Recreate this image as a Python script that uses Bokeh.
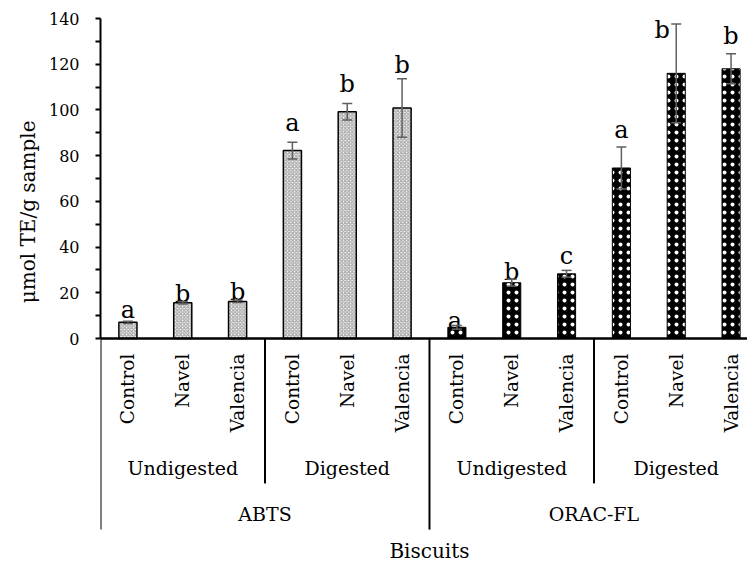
import math

from bokeh.core.properties import value
from bokeh.embed import file_html
from bokeh.models import (ColumnDataSource, FixedTicker, Range1d, Span,
                          TeeHead, Title, Whisker)
from bokeh.plotting import figure
from bokeh.resources import INLINE

# ---- data -----------------------------------------------------------------
assays = ["ABTS", "ORAC-FL"]
stages = ["Undigested", "Digested"]
biscuits = ["Control", "Navel", "Valencia"]

# means and standard deviations (µmol TE/g sample), Undigested then Digested
abts_mean = [7.1, 15.6, 16.2, 82.2, 99.2, 100.8]
abts_sd = [0.5, 0.5, 0.5, 3.7, 3.6, 12.8]
abts_letters = ["a", "b", "b", "a", "b", "b"]

orac_mean = [4.9, 24.4, 28.3, 74.6, 116.0, 118.0]
orac_sd = [0.8, 1.5, 1.5, 9.2, 21.6, 6.6]
orac_letters = ["a", "b", "c", "a", "b", "b"]

y_ticks = [0, 20, 40, 60, 80, 100, 120, 140]
y_minor = [10, 30, 50, 70, 90, 110, 130]

# ---- layout helpers -------------------------------------------------------
FONT = "DejaVu Serif"
per_stage = len(biscuits)
per_assay = per_stage * len(stages)
n_bars = per_assay * len(assays)

x_abts = [i + 0.5 for i in range(per_assay)]
x_orac = [per_assay + i + 0.5 for i in range(per_assay)]

# letter label nudges in screen pixels (x right, y down), text centred
abts_dx = [0, 0, 0, 0, 0, 0]
abts_dy = [-11, -8, -8, -19, -20, -14]
orac_dx = [-2, 0, 0, 0, -14, 0]
orac_dy = [-4, -7, -14, -17, 6, -18]

p = figure(width=747, height=562, output_backend="svg", toolbar_location=None,
           x_range=Range1d(0, 11.80), y_range=Range1d(-98.0, 143.5),
           x_axis_location=None, min_border_left=100, min_border_right=0,
           min_border_top=10, min_border_bottom=0)
p.xgrid.visible = False
p.ygrid.visible = False
p.outline_line_color = None
p.background_fill_color = "white"

# ---- y axis -----------------------------------------------------------------
yax = p.yaxis[0]
yax.bounds = (0, 140)
yax.ticker = FixedTicker(ticks=y_ticks, minor_ticks=y_minor)
yax.axis_line_width = 2
yax.axis_line_color = "black"
yax.major_tick_in = 0
yax.major_tick_out = 5
yax.minor_tick_in = 0
yax.minor_tick_out = 5
yax.major_tick_line_width = 2
yax.minor_tick_line_width = 2
yax.major_label_text_font = FONT
yax.major_label_text_font_size = "16px"
yax.major_label_text_color = "black"
yax.major_label_standoff = 16

# axis title, placed against the 0-140 span of the value axis
p.add_layout(Title(text="μmol TE/g sample", align="right", offset=110,
                   vertical_align="middle", standoff=10,
                   text_font=FONT, text_font_size="20px",
                   text_font_style="normal", text_color="black"), "left")

# ---- bars -------------------------------------------------------------------
abts_src = ColumnDataSource(dict(
    x=x_abts, top=abts_mean,
    upper=[m + s for m, s in zip(abts_mean, abts_sd)],
    lower=[m - s for m, s in zip(abts_mean, abts_sd)],
    letter=abts_letters, dx=abts_dx, dy=abts_dy))
orac_src = ColumnDataSource(dict(
    x=x_orac, top=orac_mean,
    upper=[m + s for m, s in zip(orac_mean, orac_sd)],
    lower=[m - s for m, s in zip(orac_mean, orac_sd)],
    letter=orac_letters, dx=orac_dx, dy=orac_dy))

bar_w = 0.33
p.vbar(x="x", top="top", bottom=0, width=bar_w, source=abts_src,
       fill_color="#f4f4f4", hatch_pattern="diagonal_cross", hatch_scale=3.5,
       hatch_weight=1, hatch_color="#9a9a9a",
       line_color="black", line_width=1.5)
p.vbar(x="x", top="top", bottom=0, width=bar_w, source=orac_src,
       fill_color="black", hatch_pattern="dot", hatch_scale=8,
       hatch_weight=1, hatch_color="white",
       line_color="black", line_width=1)

for src in (abts_src, orac_src):
    head = dict(size=10, line_color="#5f5f5f", line_width=1.5)
    p.add_layout(Whisker(source=src, base="x", upper="upper", lower="lower",
                         line_color="#5f5f5f", line_width=1.5, level="overlay",
                         upper_head=TeeHead(**head), lower_head=TeeHead(**head)))
    p.text(x="x", y="upper", text="letter", source=src,
           x_offset="dx", y_offset="dy",
           text_font=value(FONT), text_font_size="24px", text_color="black",
           text_align="center", text_baseline="middle")

# ---- category axis drawn beneath the zero line ------------------------------
p.add_layout(Span(location=0, dimension="width", line_color="black",
                  line_width=2.5))

all_x = x_abts + x_orac
cat_labels = biscuits * (n_bars // per_stage)
p.text(x=all_x, y=[-6.6] * n_bars, text=cat_labels, angle=math.pi / 2,
       text_font=value(FONT), text_font_size="18.5px", text_color="black",
       text_align="right", text_baseline="middle")

stage_x = [k * per_stage + per_stage / 2 for k in range(len(stages) * len(assays))]
p.text(x=stage_x, y=[-56.8] * len(stage_x), text=stages * len(assays),
       text_font=value(FONT), text_font_size="19px", text_color="black",
       text_align="center", text_baseline="middle")

assay_x = [k * per_assay + per_assay / 2 for k in range(len(assays))]
p.text(x=assay_x, y=[-76.9] * len(assays), text=assays,
       text_font=value(FONT), text_font_size="19px", text_color="black",
       text_align="center", text_baseline="middle")

p.text(x=[n_bars / 2], y=[-92.8], text=["Biscuits"],
       text_font=value(FONT), text_font_size="20px", text_color="black",
       text_align="center", text_baseline="middle")

# separators: short ones between stages, long ones between assays
sub_x = [a * per_assay + per_stage for a in range(len(assays))]
p.segment(x0=sub_x, y0=[0] * len(sub_x), x1=sub_x, y1=[-63.4] * len(sub_x),
          line_color="black", line_width=2)
grp_x = [a * per_assay for a in range(len(assays) + 1)]
p.segment(x0=grp_x, y0=[0] * len(grp_x), x1=grp_x, y1=[-83.6] * len(grp_x),
          line_color="black", line_width=2)

open("out.html", "w").write(file_html(p, INLINE))
